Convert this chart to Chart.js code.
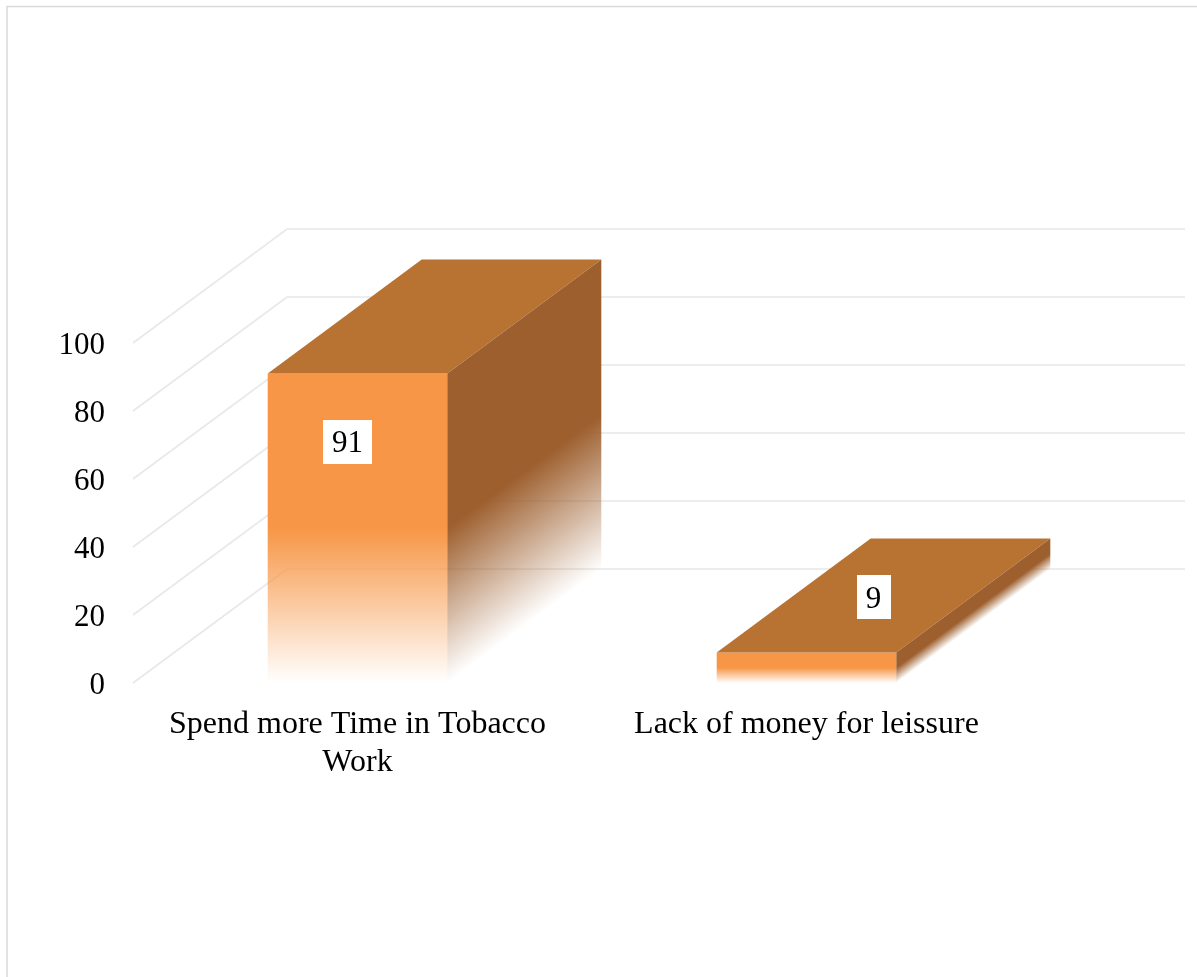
<!DOCTYPE html>
<html>
<head>
<meta charset="utf-8">
<script src="https://cdn.jsdelivr.net/npm/chart.js@4"></script>
<style>
  html, body { margin: 0; padding: 0; background: #ffffff; }
  #wrap { width: 1197px; height: 977px; position: relative; }
</style>
</head>
<body>
<div id="wrap"><canvas id="chart" width="1197" height="977"></canvas></div>
<script>
// Categories (multi-line labels as arrays), values and axis ticks
const categories = [['Spend more Time in Tobacco', 'Work'], 'Lack of money for leissure'];
const values = [91, 9];
const yTicks = [0, 20, 40, 60, 80, 100];

// Oblique depth of the 3D box (pixels to the right / upward)
const DEPTH_X = 154;
const DEPTH_Y = -114;

const FRONT = '#F79646';
const TOP = '#B87333';
const SIDE = '#9D5F2E';
const GRID = '#e8e8e8';
const SERIF = '"Liberation Serif", "Times New Roman", serif';

function withAlpha(hex, a) {
  const n = parseInt(hex.slice(1), 16);
  return `rgba(${(n >> 16) & 255},${(n >> 8) & 255},${n & 255},${a})`;
}

// Vertical fade: solid on the upper half of the bar, fading out toward its base
function fadeGradient(ctx, color, yTop, yBase) {
  const g = ctx.createLinearGradient(0, yTop, 0, yBase);
  g.addColorStop(0, color);
  g.addColorStop(0.5, color);
  g.addColorStop(0.75, withAlpha(color, 0.5));
  g.addColorStop(1, withAlpha(color, 0));
  return g;
}

const box3d = {
  id: 'box3d',
  beforeDraw(chart) {
    const ctx = chart.ctx;
    ctx.save();
    ctx.fillStyle = '#ffffff';
    ctx.fillRect(0, 0, chart.width, chart.height);
    // outer frame (top and left edges)
    ctx.strokeStyle = '#d9d9d9';
    ctx.lineWidth = 1.5;
    ctx.beginPath();
    ctx.moveTo(chart.width, 6.5);
    ctx.lineTo(7, 6.5);
    ctx.lineTo(7, chart.height);
    ctx.stroke();
    ctx.restore();
  },
  beforeDatasetsDraw(chart) {
    const ctx = chart.ctx;
    const { left, right } = chart.chartArea;
    const y = chart.scales.y;
    ctx.save();
    ctx.strokeStyle = GRID;
    ctx.lineWidth = 1.6;
    yTicks.forEach(v => {
      const py = y.getPixelForValue(v);
      ctx.beginPath();
      // side wall
      ctx.moveTo(left, py);
      ctx.lineTo(left + DEPTH_X, py + DEPTH_Y);
      // back wall
      ctx.lineTo(right + DEPTH_X, py + DEPTH_Y);
      ctx.stroke();
    });
    ctx.restore();
  },
  afterDatasetsDraw(chart) {
    const ctx = chart.ctx;
    const meta = chart.getDatasetMeta(0);
    meta.data.forEach((bar, i) => {
      const { x, y, base, width } = bar.getProps(['x', 'y', 'base', 'width'], true);
      const xl = x - width / 2;
      const xr = x + width / 2;
      ctx.save();
      // top face
      ctx.fillStyle = TOP;
      ctx.beginPath();
      ctx.moveTo(xl, y);
      ctx.lineTo(xr, y);
      ctx.lineTo(xr + DEPTH_X, y + DEPTH_Y);
      ctx.lineTo(xl + DEPTH_X, y + DEPTH_Y);
      ctx.closePath();
      ctx.fill();
      ctx.restore();

      // side face, drawn in sheared local coordinates so the fade follows the box
      ctx.save();
      ctx.translate(xr, 0);
      ctx.transform(1, DEPTH_Y / DEPTH_X, 0, 1, 0, 0);
      ctx.fillStyle = fadeGradient(ctx, SIDE, y, base);
      ctx.fillRect(0, y, DEPTH_X, base - y);
      ctx.restore();

      // value label in a white box
      const label = String(values[i]);
      ctx.save();
      ctx.font = `31px ${SERIF}`;
      const tw = ctx.measureText(label).width;
      const bw = tw + 18, bh = 44;
      let cx, cy;
      if (base - y > 80) {
        cx = x - 10;
        cy = y + 68;
      } else {
        cx = x + DEPTH_X / 2 - 10;
        cy = y + DEPTH_Y / 2 + 2;
      }
      ctx.fillStyle = '#ffffff';
      ctx.fillRect(Math.round(cx - bw / 2), Math.round(cy - bh / 2), Math.round(bw), bh);
      ctx.fillStyle = '#000000';
      ctx.textAlign = 'center';
      ctx.textBaseline = 'middle';
      ctx.fillText(label, cx, cy + 2);
      ctx.restore();
    });
  }
};

new Chart(document.getElementById('chart'), {
  type: 'bar',
  data: {
    labels: categories,
    datasets: [{
      data: values,
      backgroundColor(c) {
        const chart = c.chart;
        if (!chart.chartArea || c.type !== 'data') return FRONT;
        const ys = chart.scales.y;
        return fadeGradient(chart.ctx, FRONT, ys.getPixelForValue(c.raw), ys.getPixelForValue(0));
      },
      borderWidth: 0,
      barPercentage: 0.8,
      categoryPercentage: 0.5
    }]
  },
  options: {
    responsive: false,
    animation: false,
    devicePixelRatio: 1,
    layout: { padding: { top: 343, right: 166, left: 0, bottom: 0 } },
    plugins: {
      legend: { display: false },
      tooltip: { enabled: false },
      title: { display: false }
    },
    scales: {
      x: {
        grid: { display: false, drawTicks: false },
        border: { display: false },
        ticks: {
          color: '#000000',
          font: { family: SERIF, size: 32, lineHeight: 1.2 },
          padding: 22,
          maxRotation: 0,
          autoSkip: false
        },
        afterFit(s) { s.height = 294; }
      },
      y: {
        min: 0,
        max: 100,
        grid: { display: false, drawTicks: false },
        border: { display: false },
        ticks: {
          stepSize: 20,
          color: '#000000',
          font: { family: SERIF, size: 31 },
          padding: 28,
          labelOffset: 3
        },
        afterFit(s) { s.width = 133; }
      }
    }
  },
  plugins: [box3d]
});
</script>
</body>
</html>
